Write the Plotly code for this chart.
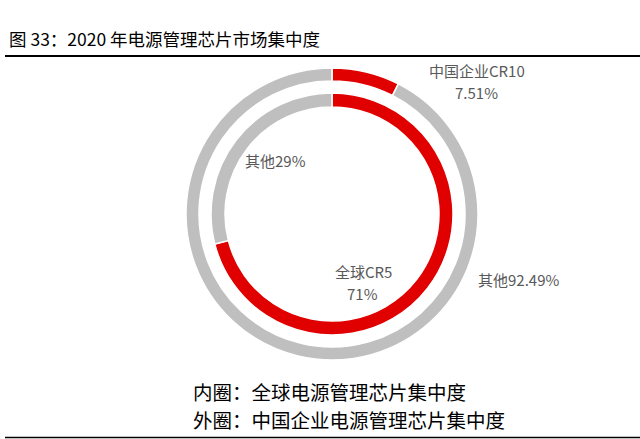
import plotly.graph_objects as go

# data
outer_labels = ['中国企业CR10', '其他']
outer_values = [7.51, 92.49]
inner_labels = ['全球CR5', '其他']
inner_values = [71, 29]

red = '#E00000'
grey = '#BFBFBF'
font_cn = 'Noto Sans CJK SC'

W, H = 640, 439
cx, cy = 332, 225  # ring centre, px from bottom-left


def dom(r):
    return dict(x=[(cx - r) / W, (cx + r) / W], y=[(cy - r) / H, (cy + r) / H])


fig = go.Figure()

# outer ring: 中国企业
fig.add_trace(go.Pie(
    labels=outer_labels, values=outer_values, sort=False, direction='clockwise',
    rotation=0, hole=133 / 146, domain=dom(146), textinfo='none',
    marker=dict(colors=[red, grey], line=dict(color='white', width=1.5)),
    showlegend=False,
))

# inner ring: 全球
fig.add_trace(go.Pie(
    labels=inner_labels, values=inner_values, sort=False, direction='clockwise',
    rotation=0, hole=107 / 121, domain=dom(121), textinfo='none',
    marker=dict(colors=[red, grey], line=dict(color='white', width=1.5)),
    showlegend=False,
))

lab_font = dict(family=font_cn, size=15, color='#595959')


def px_ann(x, y, text, font, xanchor='center'):
    # x, y in pixels from top-left of the picture
    return dict(x=x / W, y=1 - y / H, xref='paper', yref='paper', text=text,
                showarrow=False, font=font, xanchor=xanchor, yanchor='middle')


annotations = [
    px_ann(477, 70, outer_labels[0], lab_font),
    px_ann(476, 92, f'{outer_values[0]}%', lab_font),
    px_ann(518, 279, f'{outer_labels[1]}{outer_values[1]}%', lab_font),
    px_ann(275, 160, f'{inner_labels[1]}{inner_values[1]}%', lab_font),
    px_ann(363, 271, inner_labels[0], lab_font),
    px_ann(362, 293, f'{inner_values[0]}%', lab_font),
    px_ann(7, 38, '图 33：2020 年电源管理芯片市场集中度',
           dict(family=font_cn, size=17.5, color='black'), xanchor='left'),
    px_ann(191, 391, '内圈：全球电源管理芯片集中度',
           dict(family=font_cn, size=19.5, color='black'), xanchor='left'),
    px_ann(191, 419, '外圈：中国企业电源管理芯片集中度',
           dict(family=font_cn, size=19.5, color='black'), xanchor='left'),
]

shapes = [
    dict(type='line', xref='paper', yref='paper', x0=5 / W, x1=1, y0=1 - 56 / H, y1=1 - 56 / H,
         line=dict(color='black', width=2)),
    dict(type='line', xref='paper', yref='paper', x0=5 / W, x1=1, y0=1 - 437.5 / H, y1=1 - 437.5 / H,
         line=dict(color='black', width=1.5)),
]

fig.update_layout(
    width=W, height=H,
    margin=dict(l=0, r=0, t=0, b=0),
    paper_bgcolor='white', plot_bgcolor='white',
    annotations=annotations, shapes=shapes,
)

# page body has an 8px default margin; drop it so the figure sits at 0,0
fig.write_html('out.html', config={'displayModeBar': False},
               post_script="document.body.style.margin='0';")
